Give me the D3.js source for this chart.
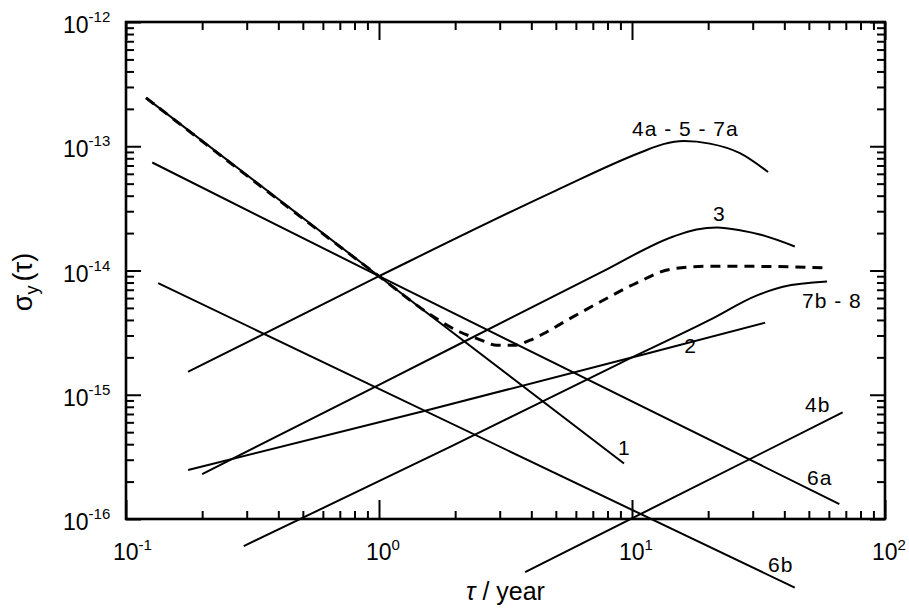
<!DOCTYPE html>
<html>
<head>
<meta charset="utf-8">
<script src="https://cdn.jsdelivr.net/npm/d3@7"></script>
<style>
  body { margin: 0; background: #fff; }
  svg { display: block; font-family: "Liberation Sans", Arial, Helvetica, sans-serif; }
  .tick line { stroke: #000; stroke-width: 2; }
  .curve { fill: none; stroke: #000; stroke-width: 2; }
</style>
</head>
<body>
<div id="chart"></div>
<script>
// curves, points are [tau in years, sigma_y]
const curve1 = [[0.12, 2.45e-13], [1.0, 9.0e-15], [9.3, 2.8e-16]]
const curve2 = [[0.176, 2.48e-16], [1.55, 7.5e-16], [11, 2.1e-15], [33.6, 3.8e-15]]
const curve3 = [[0.2, 2.3e-16], [1.0, 1.2e-15], [7.5, 9.6e-15], [14.5, 1.87e-14], [18, 2.14e-14],
  [21.7, 2.22e-14], [27, 2.1e-14], [32, 1.95e-14], [44, 1.56e-14]]
const curve4a = [[0.176, 1.53e-15], [1.0, 9.0e-15], [5.0, 4.4e-14], [10.8, 8.9e-14], [13.3, 1.04e-13],
  [16, 1.10e-13], [20.3, 1.05e-13], [26.7, 8.8e-14], [34.5, 6.2e-14]]
const curve4b = [[3.78, 3.74e-17], [68, 7.2e-16]]
const curve6a = [[0.127, 7.4e-14], [1.0, 9.0e-15], [66, 1.32e-16]]
const curve6b = [[0.134, 7.9e-15], [44, 2.8e-17]]
const curve7b = [[0.292, 6.05e-17], [1.91, 3.8e-16], [9.0, 1.8e-15], [20.3, 4.0e-15], [31.2, 6.3e-15],
  [39.5, 7.4e-15], [59, 8.15e-15]]
// total (dashed)
const total = [[0.12, 2.45e-13], [1.0, 9.0e-15], [1.6, 4.4e-15], [2.09, 3.2e-15], [2.5, 2.78e-15],
  [2.93, 2.5e-15], [3.4, 2.5e-15], [3.96, 2.75e-15], [4.6, 3.2e-15], [5.5, 3.95e-15], [7.5, 5.6e-15],
  [10.5, 8.0e-15], [14.1, 1.02e-14], [19.4, 1.08e-14], [30, 1.08e-14], [59, 1.05e-14]]

const curveLabels = ['4a - 5 - 7a', '3', '7b - 8', '2', '1', '4b', '6a', '6b']
const labelTau = [10.0, 20.9, 47, 16.1, 8.8, 48.3, 49.2, 34.5]
const labelSigma = [1.2e-13, 2.48e-14, 5.0e-15, 2.18e-15, 3.3e-16, 7.2e-16, 1.88e-16, 3.74e-17]

const tauTicks = [0.1, 1, 10, 100]
const tauTickExp = ['-1', '0', '1', '2']
const sigmaTicks = [1e-12, 1e-13, 1e-14, 1e-15, 1e-16]
const sigmaTickExp = ['-12', '-13', '-14', '-15', '-16']

const margin = { top: 22, right: 24, bottom: 92, left: 126 }
const width = 909 - margin.left - margin.right
const height = 611 - margin.top - margin.bottom

const svg = d3.select('#chart')
  .append('svg')
  .attr('width', 909)
  .attr('height', 611)
  .append('g')
  .attr('transform', 'translate(' + margin.left + ',' + margin.top + ')')

const x = d3.scaleLog().domain([0.1, 100]).range([0, width])
const y = d3.scaleLog().domain([1e-16, 1e-12]).range([height, 0])

const xMinor = x.ticks().filter(d => !tauTicks.includes(d))
const yMinor = y.ticks().filter(d => !sigmaTicks.some(s => Math.abs(s - d) / s < 1e-6))

// inward ticks on all four sides
function ticks(axis, values, size, transform) {
  svg.append('g')
    .attr('transform', transform)
    .call(axis.tickValues(values).tickSize(-size).tickFormat(''))
    .call(g => g.select('.domain').remove())
}
ticks(d3.axisBottom(x), tauTicks, 19, 'translate(0,' + height + ')')
ticks(d3.axisBottom(x), xMinor, 8, 'translate(0,' + height + ')')
ticks(d3.axisTop(x), tauTicks, 18, 'translate(0,0)')
ticks(d3.axisTop(x), xMinor, 8, 'translate(0,0)')
ticks(d3.axisLeft(y), sigmaTicks, 15, 'translate(0,0)')
ticks(d3.axisLeft(y), yMinor, 8, 'translate(0,0)')
ticks(d3.axisRight(y), sigmaTicks, 15, 'translate(' + width + ',0)')
ticks(d3.axisRight(y), yMinor, 8, 'translate(' + width + ',0)')

svg.append('rect')
  .attr('width', width)
  .attr('height', height)
  .attr('fill', 'none')
  .attr('stroke', '#000')
  .attr('stroke-width', 2.6)

// tick labels 10^n
const xLab = svg.selectAll('.xlab')
  .data(tauTicks)
  .enter()
  .append('text')
  .attr('class', 'xlab')
  .attr('x', d => x(d) - 13)
  .attr('y', height + 41)
  .attr('font-size', 23)
xLab.append('tspan').text('10')
xLab.append('tspan')
  .attr('dy', -10)
  .attr('font-size', 15)
  .text((d, i) => tauTickExp[i])

const yLab = svg.selectAll('.ylab')
  .data(sigmaTicks)
  .enter()
  .append('text')
  .attr('class', 'ylab')
  .attr('x', -63)
  .attr('y', d => y(d) + 11)
  .attr('font-size', 23)
yLab.append('tspan').text('10')
yLab.append('tspan')
  .attr('dy', -11)
  .attr('font-size', 15)
  .text((d, i) => sigmaTickExp[i])

// curves
const line = d3.line()
  .x(d => x(d[0]))
  .y(d => y(d[1]))
  .curve(d3.curveMonotoneX)

const solid = [curve1, curve2, curve3, curve4a, curve4b, curve6a, curve6b, curve7b]
svg.selectAll('.curve')
  .data(solid)
  .enter()
  .append('path')
  .attr('class', 'curve')
  .attr('d', line)

svg.append('path')
  .datum(total)
  .attr('fill', 'none')
  .attr('stroke', '#000')
  .attr('stroke-width', 3)
  .attr('stroke-dasharray', '10,7')
  .attr('d', line)

svg.selectAll('.clab')
  .data(curveLabels)
  .enter()
  .append('text')
  .attr('class', 'clab')
  .attr('x', (d, i) => x(labelTau[i]))
  .attr('y', (d, i) => y(labelSigma[i]))
  .attr('font-size', 21)
  .attr('letter-spacing', 1)
  .attr('xml:space', 'preserve')
  .text(d => d)

// axis titles
const xt = svg.append('text')
  .attr('x', width / 2)
  .attr('y', height + 81)
  .attr('text-anchor', 'middle')
  .attr('font-size', 25)
xt.append('tspan').attr('font-style', 'italic').text('τ')
xt.append('tspan').text(' / year')

const yt = svg.append('text')
  .attr('transform', 'translate(' + (32 - margin.left) + ',' + (282 - margin.top) + ') rotate(-90)')
  .attr('text-anchor', 'middle')
  .attr('font-size', 27)
yt.append('tspan').text('σ')
yt.append('tspan').attr('font-size', 18).attr('dy', 6).text('y')
yt.append('tspan').attr('dy', -6).attr('dx', 4).text('(τ)')
</script>
</body>
</html>
